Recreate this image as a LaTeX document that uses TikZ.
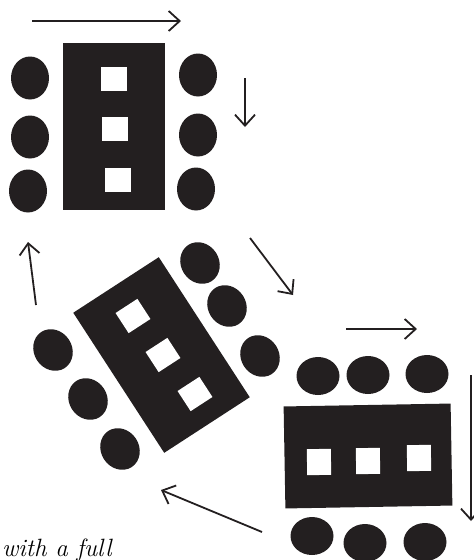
\documentclass[tikz,border=0pt]{standalone}
\usepackage{xcolor}
\usepackage{tikz}
\usetikzlibrary{arrows.meta, shapes.geometric}
\definecolor{ink}{RGB}{35,31,32}

\begin{document}
\begin{tikzpicture}[x=1pt, y=-1pt,
    tablebox/.style={fill=ink, inner sep=0pt, minimum width=102pt, minimum height=167pt},
    seat/.style={ellipse, fill=ink, inner sep=0pt, minimum width=38pt, minimum height=43pt},
    pane/.style={fill=white, inner sep=0pt, minimum width=26pt, minimum height=24pt},
    flow/.style={line width=1.8pt, draw=ink, -{Straight Barb[length=11pt, width=20pt]}}]
  \useasboundingbox (0,0) rectangle (474,560);
  % first table, upright
  \node[tablebox] (tabA) at (114,126.5) {};
  \node[pane] (paneA1) at (113.5,79) {};
  \node[pane] (paneA2) at (114.5,128.5) {};
  \node[pane] (paneA3) at (117.5,179.5) {};
  \node[seat] (seatA1) at (30,78) {};
  \node[seat] (seatA2) at (30,137) {};
  \node[seat] (seatA3) at (28,191) {};
  \node[seat] (seatA4) at (198,75) {};
  \node[seat] (seatA5) at (198,135) {};
  \node[seat] (seatA6) at (196,189) {};
  % second table, tilted
  \node[tablebox, rotate=33] (tabB) at (161.5,355) {};
  \node[pane, rotate=33] (paneB1) at (133,316) {};
  \node[pane, rotate=33] (paneB2) at (163,355) {};
  \node[pane, rotate=33] (paneB3) at (195,394) {};
  \node[seat, rotate=33] (seatB1) at (53,350) {};
  \node[seat, rotate=33] (seatB2) at (88,399) {};
  \node[seat, rotate=33] (seatB3) at (120,449) {};
  \node[seat, rotate=33] (seatB4) at (200,263) {};
  \node[seat, rotate=33] (seatB5) at (227,306) {};
  \node[seat, rotate=33] (seatB6) at (260,356) {};
  % third table, lying
  \node[tablebox, rotate=91] (tabC) at (368,456) {};
  \node[pane, rotate=91] (paneC1) at (319,462) {};
  \node[pane, rotate=91] (paneC2) at (368,461) {};
  \node[pane, rotate=91] (paneC3) at (419,458) {};
  \node[seat, rotate=90] (seatC1) at (318,376) {};
  \node[seat, rotate=90] (seatC2) at (368,375) {};
  \node[seat, rotate=90] (seatC3) at (427,374) {};
  \node[seat, rotate=90] (seatC4) at (312,536) {};
  \node[seat, rotate=90] (seatC5) at (365,543) {};
  \node[seat, rotate=90] (seatC6) at (425,542) {};
  % arrows
  \coordinate (arr1s) at (32,21);   \coordinate (arr1e) at (181,21);
  \coordinate (arr2s) at (245,78);  \coordinate (arr2e) at (245,127);
  \coordinate (arr3s) at (250,238); \coordinate (arr3e) at (293,295);
  \coordinate (arr4s) at (346,329); \coordinate (arr4e) at (417,329);
  \coordinate (arr5s) at (471,375); \coordinate (arr5e) at (471,521);
  \coordinate (arr6s) at (262,532); \coordinate (arr6e) at (161,490);
  \coordinate (arr7s) at (36,305);  \coordinate (arr7e) at (28,242);
  \foreach \i in {1,...,7}
    \draw[flow] (arr\i s) -- (arr\i e);
  \node[font=\itshape\fontsize{25}{30}\selectfont, anchor=base west, inner sep=0pt] (caption) at (2,556) {with a full};
\end{tikzpicture}
\end{document}
